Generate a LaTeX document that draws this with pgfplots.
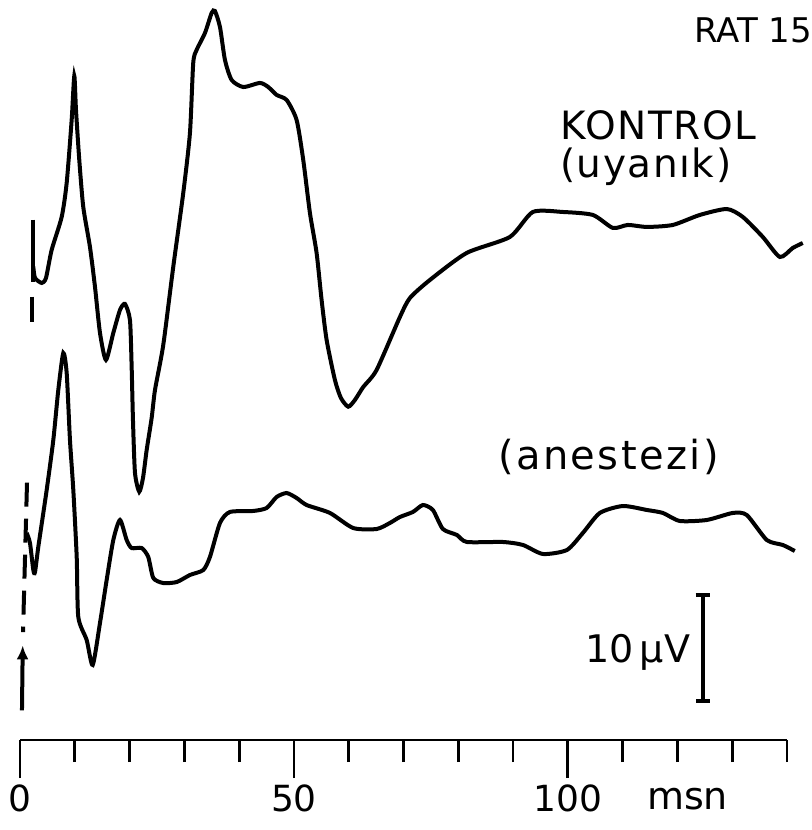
\documentclass[border=0pt]{standalone}
\usepackage{fontspec}
\setmainfont{DejaVu Sans}
\usepackage{pgfplots}
\pgfplotsset{compat=1.18}
\usetikzlibrary{arrows.meta}

% evoked potential traces, time in ms, amplitude in microvolts (arbitrary offset)
\pgfplotstableread{
t v
2.43 43.03
2.74 42.00
3.96 41.55
4.74 42.00
5.78 44.55
7.61 47.55
8.52 50.64
9.43 56.36
9.91 60.36
10.22 57.27
10.82 52.73
11.55 48.45
12.77 44.82
13.69 41.18
14.60 37.00
15.69 34.55
17.03 37.00
18.25 39.09
19.16 39.64
20.07 38.18
20.38 33.91
20.62 29.09
20.99 24.27
21.77 22.57
22.45 23.82
23.12 26.36
24.03 29.27
24.64 31.82
26.15 35.91
27.97 43.00
29.80 49.73
31.02 55.18
31.62 61.55
32.24 62.73
33.76 64.27
34.98 66.09
35.58 66.27
36.50 64.82
37.41 61.82
38.63 60.00
40.75 59.36
43.80 59.73
45.31 59.36
46.84 58.64
48.67 58.18
50.49 56.36
51.70 52.73
52.92 47.91
54.14 44.27
55.05 40.00
55.97 36.36
57.48 32.73
58.58 31.09
59.91 30.30
61.13 30.91
62.65 32.09
65.09 33.64
69.34 38.45
71.17 40.18
74.82 41.82
81.51 44.27
89.42 45.73
93.61 48.00
99.09 48.00
104.56 47.73
108.21 46.55
110.95 46.82
114.42 46.64
119.16 46.82
124.09 47.73
129.01 48.27
131.93 47.55
135.58 45.73
138.69 43.91
141.06 44.73
142.88 45.18
}\kontrol

\pgfplotstableread{
t v
1.22 18.82
1.82 17.91
2.43 15.45
2.74 15.27
3.34 17.55
4.87 22.73
6.08 27.27
6.99 31.82
7.90 35.18
8.52 33.36
9.12 27.27
9.73 22.73
10.35 16.64
10.64 11.18
12.17 9.09
13.27 6.82
14.60 10.64
15.82 14.55
17.03 18.18
18.25 20.00
19.47 18.18
20.38 17.45
22.21 17.45
23.41 16.64
24.33 14.73
26.15 14.27
28.60 14.36
31.02 15.00
33.45 15.45
34.67 16.64
36.50 19.73
38.32 20.73
42.57 20.82
45.02 21.09
46.84 22.09
48.67 22.45
50.49 22.00
52.32 21.36
56.57 20.64
60.82 19.27
65.09 19.18
67.52 19.73
69.34 20.27
71.72 20.73
73.54 21.36
75.36 20.91
77.19 19.18
79.74 18.64
81.57 18.00
88.14 18.00
91.79 17.73
95.44 16.91
99.82 17.27
102.74 18.82
105.84 20.64
110.04 21.27
114.42 20.91
117.34 20.64
120.44 19.91
125.36 20.00
130.11 20.64
132.66 20.45
136.31 18.18
139.23 17.73
141.42 17.18
}\anestezi

\begin{document}
\begin{tikzpicture}[lbl/.style={inner sep=0pt, anchor=base west}]
\useasboundingbox (-10pt,-45pt) rectangle (396pt,370pt);
\begin{axis}[
  at={(0pt,0pt)}, anchor=south west,
  scale only axis, width=383.5pt, height=370pt,
  xmin=0, xmax=140, ymin=0, ymax=67.27,
  axis x line=bottom, axis y line=none,
  axis line style={line width=1.4pt, -},
  clip=false,
  xtick={10,20,30,40,60,70,80,90,110,120,130,140},
  xticklabels={},
  major tick length=11pt,
  tick align=outside,
  tick style={line width=1.4pt, black},
  extra x ticks={0,50,100},
  extra x tick labels={0,50,100},
  extra x tick style={major tick length=19pt},
  /pgf/number format/assume math mode=true,
  ticklabel style={font=\fontsize{18}{18}\selectfont},
  every axis plot post/.append style={black, mark=none, line width=2pt},
]
\addplot[smooth, tension=0.4] table {\kontrol};
\addplot[smooth, tension=0.4] table {\anestezi};

% stimulus markers
\addplot[line width=1.2pt] coordinates {(2.37,47.3) (2.37,41.6)};
\addplot[line width=1.2pt] coordinates {(2.19,40.3) (2.19,38.0)};
\addplot[line width=1.2pt, dash pattern=on 12pt off 6pt] coordinates {(1.28,23.4) (0.55,9.8)};
\addplot[line width=1.2pt, -{Latex[length=7pt,width=6pt]}] coordinates {(0.36,2.7) (0.50,8.6)};

% 10 microvolt calibration bar
\addplot[line width=1.4pt, {Bar[width=7pt]}-{Bar[width=7pt]}] coordinates {(124.6,3.36) (124.6,13.36)};

\node[lbl, font=\fontsize{17}{18}\selectfont] at (axis cs:123.0,63.45) {RAT 15};
\node[lbl, font=\fontsize{19.5}{20}\selectfont\addfontfeature{LetterSpace=4}] at (axis cs:98.5,54.55) {KONTROL};
\node[lbl, font=\fontsize{19.5}{20}\selectfont\addfontfeature{LetterSpace=4}] at (axis cs:98.5,51.1) {(uyanık)};
\node[lbl, font=\fontsize{20}{20}\selectfont\addfontfeature{LetterSpace=6}] at (axis cs:87.2,24.55) {(anestezi)};
\node[lbl, font=\fontsize{19}{20}\selectfont] at (axis cs:103.1,7.0) {10\,µV};
\node[lbl, font=\fontsize{19}{18}\selectfont] at (axis cs:114.4,-6.36) {msn};
\end{axis}
\end{tikzpicture}
\end{document}
